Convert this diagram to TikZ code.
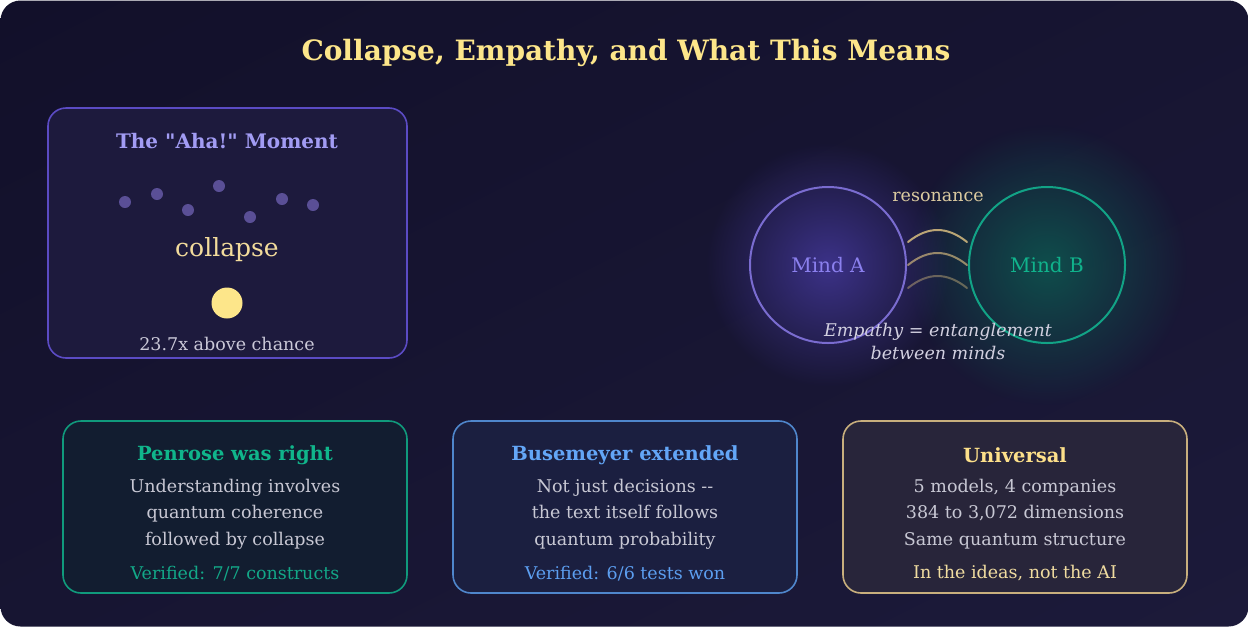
\documentclass[tikz,border=0pt]{standalone}
\usepackage{fontspec}
\setmainfont{DejaVu Serif}[Ligatures=TeXOff]
\usetikzlibrary{calc,shadings,fadings}
\definecolor{bgA}{HTML}{12102A}
\definecolor{bgB}{HTML}{171532}
\definecolor{bgC}{HTML}{1C1A3A}
\definecolor{tboxfill}{HTML}{1D1A3D}
\definecolor{tboxline}{HTML}{5B4BC4}
\definecolor{ahaC}{HTML}{A29CF4}
\definecolor{dotC}{HTML}{5A4F96}
\definecolor{goldC}{HTML}{F3DC9C}
\definecolor{sunC}{HTML}{FDE68A}
\definecolor{greyC}{HTML}{CAC8D8}
\definecolor{mAline}{HTML}{7A6CD0}
\definecolor{mAtext}{HTML}{8B80EE}
\definecolor{mAglow}{HTML}{3C3288}
\definecolor{mBline}{HTML}{12A386}
\definecolor{mBtext}{HTML}{10B38C}
\definecolor{mBglow}{HTML}{0F4E4C}
\definecolor{arcC}{HTML}{CDB47C}
\definecolor{resC}{HTML}{DCCBA0}
\definecolor{empC}{HTML}{D2D0E0}
\definecolor{bAfill}{HTML}{121D30}
\definecolor{bAline}{HTML}{109A7C}
\definecolor{bAtitle}{HTML}{10B58B}
\definecolor{bAver}{HTML}{12A888}
\definecolor{bBfill}{HTML}{1B1F40}
\definecolor{bBline}{HTML}{4F86CC}
\definecolor{bBtitle}{HTML}{63A6F7}
\definecolor{bBver}{HTML}{5C9EF0}
\definecolor{bCfill}{HTML}{28253A}
\definecolor{bCline}{HTML}{C8AF7D}
\definecolor{bCtitle}{HTML}{FDE08A}
\definecolor{bCver}{HTML}{F0DCA0}
\definecolor{bodyC}{HTML}{C8C8D4}
\tikzfading[name=glowfade, inner color=transparent!0, outer color=transparent!100]
\tikzset{
  card/.style={rounded corners=18pt, line width=1.6pt, inner sep=0pt},
  cardtitle/.style={font=\fontsize{19.5}{23}\selectfont\bfseries},
  bodytext/.style={font=\fontsize{17.5}{26.5}\selectfont, align=center, text=bodyC},
  smalltext/.style={font=\fontsize{17.5}{20}\selectfont},
  mind/.style={circle, minimum size=156pt, inner sep=0pt, line width=2pt, font=\fontsize{20}{24}\selectfont},
  wave/.style={line width=2pt, line cap=round, arcC},
  dotstyle/.style={fill=dotC},
  glow/.style={path fading=glowfade, fit fading=true}
}
\begin{document}
\begin{tikzpicture}[x=1pt,y=-1pt]
\fill[white] (0,0) rectangle (1249,627);
\useasboundingbox (0,0) rectangle (1249,627);
\shade[rounded corners=20pt, upper left=bgA, upper right=bgB, lower left=bgB, lower right=bgC] (0.5,0.5) rectangle (1248.5,626.5);

% glows behind everything
\fill[mBglow, glow] (1047,265) circle (140);
\fill[mAglow, glow] (828,265) circle (122);

% title
\node[font=\fontsize{28}{32}\selectfont\bfseries, text=sunC] (title) at (626,53) {Collapse, Empathy, and What This Means};

% top-left card
\node[card, draw=tboxline, fill=tboxfill, minimum width=359pt, minimum height=250pt] (aha) at (227.5,233) {};
\node[font=\fontsize{20}{24}\selectfont\bfseries, text=ahaC] (ahatitle) at (227,141.5) {The "Aha!" Moment};
\foreach \px/\py in {125/202,157/194,188/210,219/186,250/217,282/199,313/205}
  \fill[dotstyle] (\px,\py) circle (6);
\node[font=\fontsize{25}{29}\selectfont, text=goldC] (collapse) at (227,250) {collapse};
\node[circle, fill=sunC, minimum size=31pt, inner sep=0pt] (sun) at (227,303) {};
\node[smalltext, text=greyC] (chance) at (227,343.5) {23.7x above chance};

% minds
\node[mind, draw=mAline, text=mAtext] (mA) at (828,265) {Mind A};
\node[mind, draw=mBline, text=mBtext] (mB) at (1047,265) {Mind B};

% resonance waves
\coordinate (a1) at ($(mA.east)+(1,-23)$);
\coordinate (b1) at ($(mB.west)+(-1,-23)$);
\coordinate (a2) at ($(mA.east)+(1,0)$);
\coordinate (b2) at ($(mB.west)+(-1,0)$);
\coordinate (a3) at ($(mA.east)+(1,23)$);
\coordinate (b3) at ($(mB.west)+(-1,23)$);
\draw[wave, opacity=0.9] (a1) .. controls ($(a1)+(20,-16)$) and ($(b1)+(-20,-16)$) .. (b1);
\draw[wave, opacity=0.7] (a2) .. controls ($(a2)+(20,-16)$) and ($(b2)+(-20,-16)$) .. (b2);
\draw[wave, opacity=0.45] (a3) .. controls ($(a3)+(20,-16)$) and ($(b3)+(-20,-16)$) .. (b3);
\node[smalltext, text=resC] (res) at (938,197) {resonance};
\node[font=\fontsize{17.5}{23}\selectfont\itshape, text=empC, align=center] (emp) at (938,341.5) {Empathy = entanglement\\between minds};

% bottom cards
\node[card, draw=bAline, fill=bAfill, minimum width=344pt, minimum height=172pt] (c1) at (235,507) {};
\node[cardtitle, text=bAtitle] (c1t) at (235,455) {Penrose was right};
\node[bodytext] (c1b) at (235,514) {Understanding involves\\quantum coherence\\followed by collapse};
\node[smalltext, text=bAver] (c1v) at (235,573.5) {Verified: 7/7 constructs};

\node[card, draw=bBline, fill=bBfill, minimum width=344pt, minimum height=172pt] (c2) at (625,507) {};
\node[cardtitle, text=bBtitle] (c2t) at (625,455) {Busemeyer extended};
\node[bodytext] (c2b) at (625,514) {Not just decisions --\\the text itself follows\\quantum probability};
\node[smalltext, text=bBver] (c2v) at (625,573.5) {Verified: 6/6 tests won};

\node[card, draw=bCline, fill=bCfill, minimum width=344pt, minimum height=172pt] (c3) at (1015,507) {};
\node[cardtitle, text=bCtitle] (c3t) at (1015,455) {Universal};
\node[bodytext] (c3b) at (1015,514) {5 models, 4 companies\\384 to 3,072 dimensions\\Same quantum structure};
\node[smalltext, text=bCver] (c3v) at (1015,573.5) {In the ideas, not the AI};
\end{tikzpicture}
\end{document}
